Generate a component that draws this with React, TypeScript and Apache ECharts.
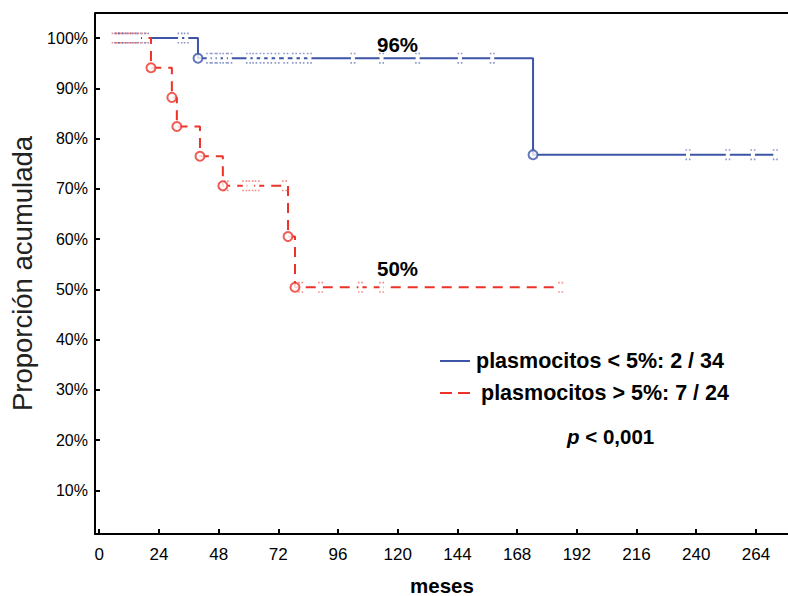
import React, { useEffect, useRef } from "react";
import * as echarts from "echarts";

const xTicks = [0, 24, 48, 72, 96, 120, 144, 168, 192, 216, 240, 264];
const yTicks = [10, 20, 30, 40, 50, 60, 70, 80, 90, 100];

const seriesNames = ["plasmocitos < 5%: 2 / 34", "plasmocitos > 5%: 7 / 24"];
const annotations = ["96%", "50%"];
const pText = "< 0,001";

// Kaplan-Meier step curves: [months, % surviving]
const blueCurve: [number, number][] = [
  [5.5, 100], [39.7, 96], [174.4, 76.8], [272.5, 76.8],
];
const blueEvents: [number, number][] = [[39.7, 96], [174.4, 76.8]];
const blueCensored: [number, number][] = [
  [7, 100], [8.5, 100], [10, 100], [12, 100], [14, 100], [16, 100], [19, 100], [32.5, 100], [35, 100],
  [44, 96], [46, 96], [48, 96], [50.5, 96], [52.5, 96],
  [60, 96], [62.5, 96], [65.5, 96], [68.5, 96], [71.5, 96], [75, 96], [78.5, 96], [81.5, 96], [84.5, 96],
  [102, 96], [113.5, 96], [128, 96], [145, 96], [158, 96],
  [236.7, 76.8], [252.7, 76.8], [262.8, 76.8], [271.8, 76.8],
];

const redCurve: [number, number][] = [
  [5.5, 100], [20.8, 94.1], [29.2, 88.2], [31.2, 82.4], [40.5, 76.5],
  [49.7, 70.6], [75.9, 60.5], [78.7, 50.4], [186, 50.4],
];
const redEvents: [number, number][] = [
  [20.8, 94.1], [29.2, 88.2], [31.2, 82.4], [40.5, 76.5], [49.7, 70.6], [75.9, 60.5], [78.7, 50.4],
];
const redCensored: [number, number][] = [
  [6, 100], [7.5, 100], [9, 100], [11, 100], [13, 100], [15, 100], [18, 100],
  [51, 70.6], [58.5, 70.6], [61, 70.6], [63.5, 70.6], [74.5, 70.6],
  [81, 50.4], [89, 50.4], [105, 50.4], [113.5, 50.4], [185.5, 50.4],
];

const BLUE = "#3d55a6";
const RED = "#ec3229";
const FONT = "'Liberation Sans', Arial, Helvetica, sans-serif";
const DOTS = "path://M0,0h1.6v1.6h-1.6z M3.4,0h1.6v1.6h-1.6z M0,9.4h1.6v1.6h-1.6z M3.4,9.4h1.6v1.6h-1.6z";

export default function App() {
  const ref = useRef<HTMLDivElement>(null);
  useEffect(() => {
    document.body.style.margin = "0";
    const chart = echarts.init(ref.current!, null, { renderer: "svg" });
    const gapSeries = (name: string, data: [number, number][]) => ({
      name,
      type: "scatter",
      data,
      symbol: "rect",
      symbolSize: [4, 4],
      itemStyle: { color: "#ffffff", opacity: 1 },
      z: 3,
      silent: true,
    });
    const dotSeries = (name: string, data: [number, number][], c: string) => ({
      name,
      type: "scatter",
      data,
      symbol: DOTS,
      symbolSize: [5, 11],
      symbolKeepAspect: false,
      itemStyle: { color: c, opacity: 1 },
      z: 3,
      silent: true,
    });
    chart.setOption({
      animation: false,
      backgroundColor: "#ffffff",
      textStyle: { fontFamily: FONT },
      grid: { left: 95, top: 13, width: 694, height: 521, show: false, outerBoundsMode: "none", containLabel: false },
      xAxis: {
        type: "value",
        min: -1.7,
        max: 277.3,
        splitLine: { show: false },
        axisLine: { show: true, onZero: false, lineStyle: { color: "#000", width: 2 } },
        axisTick: { show: true, inside: true, length: 5, customValues: xTicks, lineStyle: { color: "#000", width: 2 } },
        axisLabel: {
          customValues: xTicks,
          margin: 12,
          fontSize: 17,
          color: "#000",
          fontFamily: "'Liberation Sans Narrow', 'Arial Narrow', " + FONT,
        },
        name: "meses",
        nameLocation: "middle",
        nameGap: 41,
        nameTextStyle: { fontSize: 20.5, fontWeight: "bold", color: "#000", fontFamily: FONT, lineHeight: 20 },
      },
      yAxis: {
        type: "value",
        min: 1.3,
        max: 105,
        splitLine: { show: false },
        axisLine: { show: true, onZero: false, lineStyle: { color: "#000", width: 2 } },
        axisTick: { show: true, inside: true, length: 5, customValues: yTicks, lineStyle: { color: "#000", width: 2 } },
        axisLabel: {
          customValues: yTicks,
          margin: 7,
          fontSize: 16,
          color: "#000",
          formatter: (v: number) => `${v}%`,
        },
        name: "Proporción acumulada",
        nameLocation: "middle",
        nameGap: 52,
        nameTextStyle: { fontSize: 27.5, color: "#222", fontFamily: FONT },
      },
      graphic: [
        {
          type: "line",
          shape: { x1: 95, y1: 13, x2: 789, y2: 13 },
          style: { stroke: "#000", lineWidth: 2 },
          silent: true,
        },
        {
          type: "text",
          x: 377,
          y: 44,
          style: { text: annotations[0], font: `bold 20.5px ${FONT}`, fill: "#000", verticalAlign: "middle" },
        },
        {
          type: "text",
          x: 377,
          y: 268,
          style: { text: annotations[1], font: `bold 20.5px ${FONT}`, fill: "#000", verticalAlign: "middle" },
        },
        {
          type: "line",
          shape: { x1: 440, y1: 361, x2: 470, y2: 361 },
          style: { stroke: BLUE, lineWidth: 2 },
        },
        {
          type: "line",
          shape: { x1: 440, y1: 393, x2: 470, y2: 393 },
          style: { stroke: RED, lineWidth: 2, lineDash: [12, 6] },
        },
        {
          type: "text",
          x: 476,
          y: 361,
          style: { text: seriesNames[0], font: `bold 21.5px ${FONT}`, fill: "#000", verticalAlign: "middle" },
        },
        {
          type: "text",
          x: 481,
          y: 393,
          style: { text: seriesNames[1], font: `bold 21.5px ${FONT}`, fill: "#000", verticalAlign: "middle" },
        },
        {
          type: "text",
          x: 567,
          y: 436,
          style: {
            text: "{i|p} " + pText,
            font: `bold 20.5px ${FONT}`,
            fill: "#000",
            verticalAlign: "middle",
            rich: { i: { fontStyle: "italic", fontWeight: "bold", fontSize: 20.5, fontFamily: FONT } },
          },
        },
      ],
      series: [
        {
          name: seriesNames[0],
          type: "line",
          step: "end",
          data: blueCurve,
          symbol: "none",
          lineStyle: { color: BLUE, width: 2 },
          itemStyle: { color: BLUE },
          z: 2,
        },
        {
          name: seriesNames[1],
          type: "line",
          step: "end",
          data: redCurve,
          symbol: "none",
          lineStyle: { color: RED, width: 2, type: [10, 7] },
          itemStyle: { color: RED },
          z: 2,
        },
        gapSeries("blueGap", blueCensored),
        gapSeries("redGap", redCensored),
        dotSeries("blueCensored", blueCensored, "rgba(61,85,166,0.6)"),
        dotSeries("redCensored", redCensored, "rgba(236,50,41,0.55)"),
        {
          name: "blueEvents",
          type: "scatter",
          data: blueEvents,
          symbol: "circle",
          symbolSize: 9,
          itemStyle: { color: "#fff", borderColor: BLUE, borderWidth: 2 },
          z: 4,
        },
        {
          name: "redEvents",
          type: "scatter",
          data: redEvents,
          symbol: "circle",
          symbolSize: 9,
          itemStyle: { color: "#fff", borderColor: RED, borderWidth: 2 },
          z: 4,
        },
      ],
    });
    return () => chart.dispose();
  }, []);
  return (
    <div
      ref={ref}
      style={{ position: "fixed", left: 0, top: 0, width: 788, height: 596 }}
    />
  );
}
